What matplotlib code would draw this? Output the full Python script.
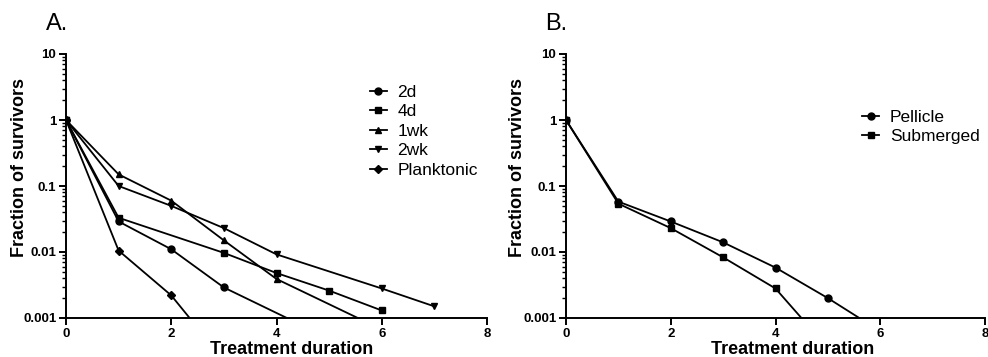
import numpy as np
import matplotlib
matplotlib.use("Agg")
import matplotlib.pyplot as plt
from matplotlib.ticker import LogLocator, FixedLocator, NullFormatter

plt.rcParams["font.family"] = ["Liberation Sans", "DejaVu Sans"]

# panel A: survivors vs treatment duration, by biofilm age
a_labels = ["2d", "4d", "1wk", "2wk", "Planktonic"]
a_markers = ["o", "s", "^", "v", "D"]
a_x = [
    [0, 1, 2, 3, 5],
    [0, 1, 3, 4, 5, 6],
    [0, 1, 2, 3, 4, 6],
    [0, 1, 2, 3, 4, 6, 7],
    [0, 1, 2, 3],
]
a_y = [
    [1.0, 0.029, 0.011, 0.0029, 0.00049],
    [1.0, 0.033, 0.0097, 0.0048, 0.0026, 0.0013],
    [1.0, 0.15, 0.06, 0.015, 0.0039, 0.00067],
    [1.0, 0.10, 0.05, 0.023, 0.0092, 0.0028, 0.0015],
    [1.0, 0.0105, 0.0022, 0.00023],
]

# panel B: pellicle vs submerged
b_labels = ["Pellicle", "Submerged"]
b_markers = ["o", "s"]
b_x = [
    [0, 1, 2, 3, 4, 5, 6],
    [0, 1, 2, 3, 4, 5],
]
b_y = [
    [1.0, 0.058, 0.029, 0.014, 0.0058, 0.0020, 0.00063],
    [1.0, 0.054, 0.023, 0.0083, 0.0028, 0.00035],
]


def style_axes(ax, xlab_x, ylab_x):
    ax.set_yscale("log")
    ax.set_ylim(0.001, 10)
    ax.set_xlim(0, 8)
    ax.spines["top"].set_visible(False)
    ax.spines["right"].set_visible(False)
    for s in ("left", "bottom"):
        ax.spines[s].set_linewidth(1.4)
    ax.xaxis.set_major_locator(FixedLocator([0, 2, 4, 6, 8]))
    ax.yaxis.set_major_locator(FixedLocator([0.001, 0.01, 0.1, 1, 10]))
    ax.yaxis.set_major_formatter(plt.FuncFormatter(lambda v, p: f"{v:g}"))
    ax.yaxis.set_minor_locator(LogLocator(base=10, subs=np.arange(2, 10)))
    ax.yaxis.set_minor_formatter(NullFormatter())
    ax.tick_params(axis="both", which="major", direction="out", length=5, width=1.4,
                   labelsize=9.5, pad=2)
    ax.tick_params(axis="y", which="minor", direction="out", length=3, width=1.0)
    for lab in ax.get_xticklabels() + ax.get_yticklabels():
        lab.set_fontweight("bold")
    ax.set_xlabel("Treatment duration", fontsize=13, fontweight="bold", va="center")
    ax.set_ylabel("Fraction of survivors", fontsize=13, fontweight="bold", va="center")
    ax.xaxis.set_label_coords(xlab_x, -0.118)
    ax.yaxis.set_label_coords(ylab_x, 0.57)


fig = plt.figure(figsize=(9.88, 3.57), dpi=100)
axA = fig.add_axes([66 / 988, 1 - 318 / 357, 421 / 988, 264 / 357])
axB = fig.add_axes([566 / 988, 1 - 318 / 357, 419 / 988, 264 / 357])

for xs, ys, lab, m in zip(a_x, a_y, a_labels, a_markers):
    ms = 4.5 if m == "D" else 5
    axA.plot(xs, ys, color="black", lw=1.3, marker=m, ms=ms, label=lab)
for xs, ys, lab, m in zip(b_x, b_y, b_labels, b_markers):
    axB.plot(xs, ys, color="black", lw=1.3, marker=m, ms=5, label=lab)

style_axes(axA, (292 - 66) / 421, (19 - 66) / 421)
style_axes(axB, (793 - 566) / 419, (517 - 566) / 419)

axA.legend(loc="upper left", bbox_to_anchor=(0.705, 0.91), frameon=False, fontsize=12.5,
           handlelength=1.0, handletextpad=0.6, labelspacing=0.25, borderaxespad=0)
axB.legend(loc="upper left", bbox_to_anchor=(0.69, 0.815), frameon=False, fontsize=12.5,
           handlelength=1.0, handletextpad=0.6, labelspacing=0.25, borderaxespad=0)

fig.text(46 / 988, 1 - 24 / 357, "A.", fontsize=17, va="center", ha="left")
fig.text(545 / 988, 1 - 24 / 357, "B.", fontsize=17, va="center", ha="left")

fig.savefig("out.png", dpi=100)
